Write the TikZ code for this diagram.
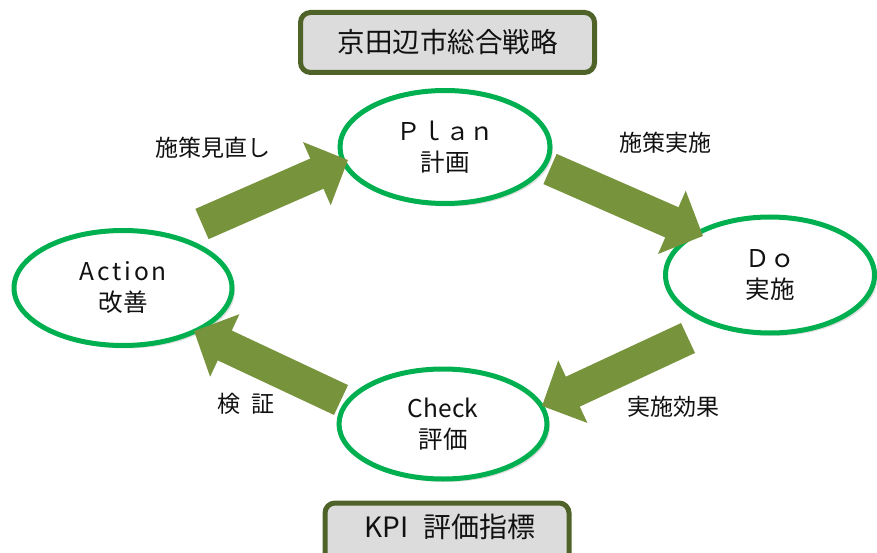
\documentclass[tikz,border=0pt]{standalone}
\usepackage{fontspec}
\setmainfont{Noto Sans CJK JP}
\usetikzlibrary{shapes.geometric,arrows.meta,shadows}
\definecolor{pgreen}{HTML}{00B050}
\definecolor{arrowolive}{HTML}{77933C}
\definecolor{boxolive}{HTML}{4F6228}
\definecolor{boxgray}{HTML}{DCDCDC}
\definecolor{inkblack}{HTML}{111111}
\begin{document}
\begin{tikzpicture}[x=1pt,y=-1pt,
  phase/.style={ellipse, draw=pgreen, line width=5pt, fill=white, align=center,
    inner sep=0pt, text=inkblack, font=\fontsize{24.5}{31}\selectfont,
    drop shadow={opacity=0.25, shadow xshift=3pt, shadow yshift=-3pt}},
  titlebox/.style={draw=boxolive, line width=5pt, fill=boxgray, rounded corners=10pt,
    inner sep=0pt, text=inkblack,
    drop shadow={opacity=0.2, shadow xshift=2pt, shadow yshift=-2pt}},
  bigarrow/.style={draw=arrowolive, line width=33pt, line cap=butt,
    -{Triangle[width=67pt, length=34pt]}},
  lbl/.style={inner sep=0pt, text=inkblack, font=\fontsize{23}{26}\selectfont}
]
\useasboundingbox (0,0) rectangle (877,553);

% title boxes
\node[titlebox, minimum width=294pt, minimum height=60pt,
  font=\fontsize{27.5}{30}\selectfont] (strategy) at (447.5,42.5) {京田辺市総合戦略};
\node[titlebox, minimum width=244pt, minimum height=72pt, anchor=north] (kpi) at (447,500.5) {};
\node[inner sep=0pt, text=inkblack, font=\fontsize{28}{30}\selectfont] (kpitext) at (450,527) {KPI\hspace{0.55em}評価指標};

% phases
\node[phase, minimum width=210pt, minimum height=113pt] (plan) at (445,147) {Ｐｌａｎ\\計画};
\node[phase, minimum width=209pt, minimum height=116pt] (do) at (770,275) {Ｄｏ\\実施};
\node[phase, minimum width=218pt, minimum height=115pt] (act) at (123,288) {\addfontfeature{LetterSpace=12}Action\\改善};
\node[phase, minimum width=208pt, minimum height=110pt] (chk) at (443,424) {Check\\評価};

% arrows
\coordinate (a1s) at (202,224); \coordinate (a1e) at (348,160);
\coordinate (a2s) at (550,169); \coordinate (a2e) at (703,236);
\coordinate (a3s) at (688,338); \coordinate (a3e) at (542,406);
\coordinate (a4s) at (341,400); \coordinate (a4e) at (194,331);
\draw[bigarrow] (a1s) -- (a1e);
\draw[bigarrow] (a2s) -- (a2e);
\draw[bigarrow] (a3s) -- (a3e);
\draw[bigarrow] (a4s) -- (a4e);

% labels
\node[lbl] (l1) at (213,148) {施策見直し};
\node[lbl] (l2) at (665,143) {施策実施};
\node[lbl] (l3) at (673,407) {実施効果};
\node[lbl] (l4) at (246,404) {検\hspace{0.45em}証};
\end{tikzpicture}
\end{document}
